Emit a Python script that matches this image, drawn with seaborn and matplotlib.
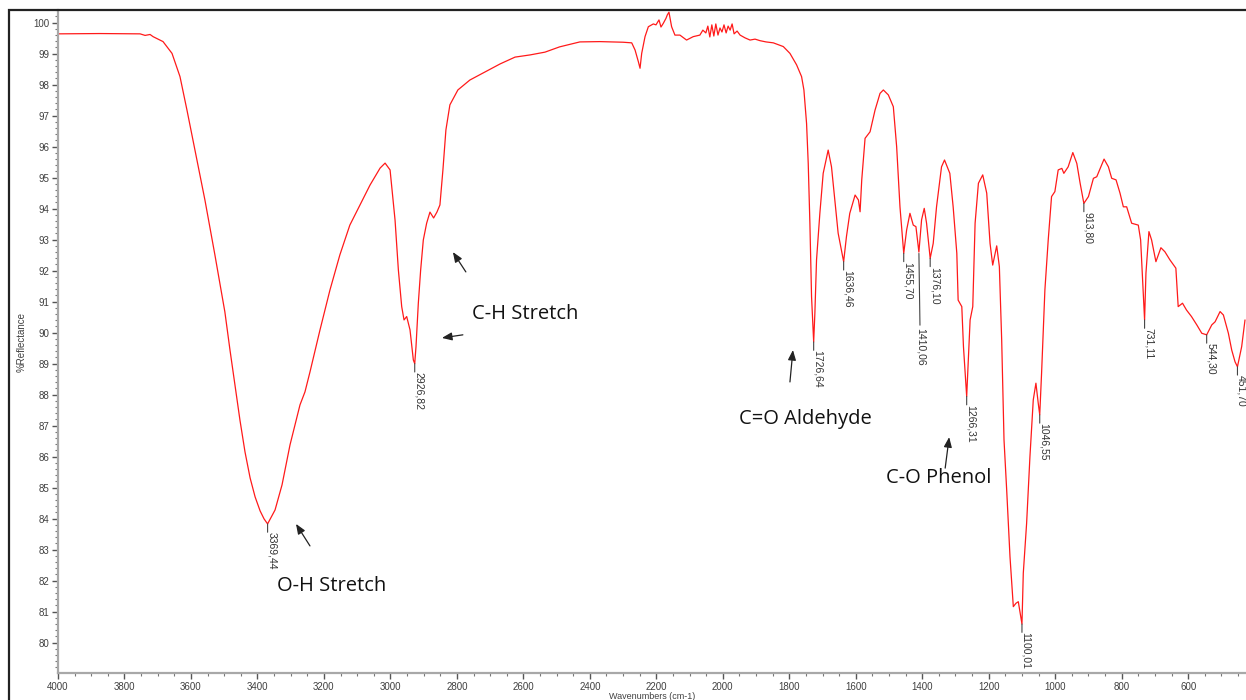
import matplotlib
matplotlib.use("Agg")
import matplotlib.pyplot as plt
from matplotlib.patches import Rectangle
from matplotlib.ticker import MultipleLocator
import seaborn as sns
import pandas as pd

# ---- data: wavenumber (cm-1) and %Reflectance ----
wavenumber = [
    4000, 3874, 3753, 3738, 3723, 3714, 3684, 3657, 3633, 3612,
    3588, 3558, 3528, 3498, 3482.6, 3467.5, 3452.5, 3437.4, 3422, 3407,
    3392, 3380, 3369.44, 3347,
    3326, 3302, 3287, 3272, 3257, 3242, 3212, 3182, 3152, 3122,
    3091.5, 3061.4, 3031, 3016, 3001, 2986, 2976, 2966, 2959, 2951,
    2941, 2931, 2926.82, 2923, 2916, 2909, 2901, 2891, 2881, 2870,
    2860, 2851, 2842, 2833, 2821, 2797, 2761, 2715.4, 2670, 2625,
    2580, 2535, 2491, 2430, 2370, 2300, 2274, 2264, 2254, 2249,
    2244, 2234, 2224, 2209, 2201, 2192, 2186, 2179, 2171, 2167,
    2162, 2154, 2144, 2129, 2109, 2089, 2069, 2060, 2051, 2045,
    2039, 2033, 2027, 2021, 2014.5, 2008.5, 2002.5, 1996.4, 1990, 1984,
    1978, 1972, 1966, 1957, 1948, 1933, 1918, 1903, 1888, 1870,
    1848, 1818, 1798, 1778, 1763, 1756, 1748, 1743, 1738, 1733,
    1726.64, 1723, 1718, 1708, 1698, 1683, 1673, 1663, 1653, 1636.46,
    1628, 1618, 1602, 1592, 1587, 1582, 1572, 1557, 1542, 1527,
    1517, 1502, 1487, 1477, 1467, 1455.70, 1447, 1437, 1427, 1419,
    1410.06, 1402, 1394, 1387, 1376.10, 1367, 1357, 1342, 1333, 1317,
    1307, 1296, 1292, 1281, 1276, 1266.31, 1261, 1256, 1248, 1241,
    1231, 1218, 1206, 1196, 1188, 1176, 1168, 1161, 1154, 1146,
    1136, 1126, 1118, 1111, 1100.01, 1096, 1086, 1076, 1066, 1058,
    1051, 1046.55, 1041, 1031, 1021, 1011, 1001, 991, 980, 974,
    961, 947, 935, 925, 913.80, 900, 885, 875, 853, 840,
    830, 817, 805, 795, 785, 770, 750, 743, 737, 731.11,
    727, 718, 710, 697, 682, 670, 655, 637, 630, 617,
    605, 590, 574, 559, 544.30, 529, 519, 504, 494, 479,
    469, 459, 451.70, 439, 429,
]
reflectance = [
    99.64, 99.65, 99.64, 99.59, 99.62, 99.55, 99.39, 99.01, 98.26, 97.18,
    95.89, 94.28, 92.51, 90.67, 89.44, 88.30, 87.17, 86.15, 85.31, 84.70,
    84.25, 83.99, 83.83, 84.28,
    85.09, 86.38, 87.02, 87.67, 88.09, 88.73, 90.08, 91.37, 92.51, 93.47,
    94.12, 94.76, 95.31, 95.47, 95.25, 93.63, 92.02, 90.84, 90.41, 90.52,
    90.09, 89.12, 89.00, 89.55, 90.95, 92.02, 92.99, 93.53, 93.89, 93.70,
    93.89, 94.12, 95.25, 96.54, 97.35, 97.83, 98.15, 98.41, 98.67, 98.89,
    98.96, 99.05, 99.22, 99.38, 99.39, 99.37, 99.35, 99.12, 98.74, 98.53,
    99.01, 99.55, 99.87, 99.96, 99.93, 100.09, 99.86, 99.98, 100.14, 100.25,
    100.34, 99.87, 99.60, 99.60, 99.44, 99.55, 99.60, 99.76, 99.67, 99.89,
    99.54, 99.93, 99.57, 99.96, 99.60, 99.83, 99.70, 99.93, 99.67, 99.89,
    99.76, 99.96, 99.64, 99.73, 99.60, 99.51, 99.44, 99.47, 99.42, 99.38,
    99.35, 99.23, 99.01, 98.64, 98.26, 97.83, 96.75, 95.46, 93.53, 91.16,
    89.70, 90.63, 92.35, 93.85, 95.14, 95.89, 95.35, 94.28, 93.21, 92.29,
    93.10, 93.85, 94.44, 94.28, 93.90, 94.93, 96.27, 96.48, 97.18, 97.72,
    97.83, 97.67, 97.29, 96.00, 94.06, 92.56, 93.31, 93.85, 93.47, 93.42,
    92.60, 93.64, 94.01, 93.53, 92.40, 92.88, 94.06, 95.35, 95.57, 95.14,
    94.06, 92.56, 91.05, 90.84, 89.55, 87.94, 89.23, 90.41, 90.84, 93.53,
    94.82, 95.09, 94.50, 92.88, 92.18, 92.80, 92.13, 89.76, 86.54, 84.93,
    82.77, 81.16, 81.27, 81.32, 80.60, 82.24, 83.85, 86.00, 87.83, 88.37,
    87.72, 87.35, 88.69, 91.38, 92.99, 94.39, 94.55, 95.25, 95.30, 95.14,
    95.35, 95.81, 95.46, 94.82, 94.17, 94.39, 94.98, 95.03, 95.60, 95.35,
    94.98, 94.93, 94.50, 94.06, 94.06, 93.53, 93.47, 92.99, 91.70, 90.41,
    91.92, 93.26, 92.99, 92.29, 92.74, 92.61, 92.35, 92.08, 90.84, 90.95,
    90.73, 90.52, 90.25, 89.98, 89.93, 90.25, 90.35, 90.68, 90.57, 89.98,
    89.44, 89.06, 88.90, 89.55, 90.41,
]

# peak labels (position, value, label text)
peak_wn = [3369.44, 2926.82, 1726.64, 1636.46, 1455.70, 1410.06, 1376.10,
           1266.31, 1100.01, 1046.55, 913.80, 731.11, 544.30, 451.70]
peak_val = [83.83, 89.00, 89.70, 92.29, 92.56, 92.60, 92.40,
            87.94, 80.60, 87.35, 94.17, 90.41, 89.93, 88.90]
peak_text = ["3369,44", "2926,82", "1726,64", "1636,46", "1455,70", "1410,06",
             "1376,10", "1266,31", "1100,01", "1046,55", "913,80", "731,11",
             "544,30", "451,70"]

# band annotations
band_text = ["O-H Stretch", "C-H Stretch", "C=O Aldehyde", "C-O Phenol"]
band_pos = [(3341, 81.83), (2754, 90.60), (1951, 87.22), (1509, 85.31)]
arrow_tail = [(3242, 83.12), (2773, 91.96), (2782, 89.93), (1798, 88.41), (1331, 85.63)]
arrow_head = [(3284, 83.83), (2812, 92.60), (2845, 89.83), (1789, 89.44), (1319, 86.63)]

x_ticks = list(range(600, 4001, 200))
y_ticks = list(range(80, 101))

# ---- figure ----
sns.set_theme(style="white")
plt.rcParams["font.family"] = ["Liberation Sans", "DejaVu Sans"]

W, H = 1246, 700
fig = plt.figure(figsize=(W / 100, H / 100), dpi=100)
ax = fig.add_axes([58 / W, (H - 673.3) / H, (1246 - 58) / W, (673.3 - 10.3) / H])

df = pd.DataFrame({"Wavenumber": wavenumber, "Reflectance": reflectance})
sns.lineplot(data=df, x="Wavenumber", y="Reflectance", ax=ax, color="#ff1a1a",
             linewidth=0.9, estimator=None, sort=True)

ax.set_xlim(4000, 426)
ax.set_ylim(79.01, 100.4)
ax.set_xticks(x_ticks)
ax.set_yticks(y_ticks)
ax.xaxis.set_minor_locator(MultipleLocator(50))
ax.yaxis.set_minor_locator(MultipleLocator(0.2))
ax.tick_params(axis="both", which="major", direction="out", length=4, width=1,
               color="#555555", labelsize=7, labelcolor="#404040", pad=2)
ax.tick_params(axis="both", which="minor", direction="out", length=2, width=0.8,
               color="#777777")
ax.tick_params(axis="x", which="both", bottom=True)
ax.tick_params(axis="y", which="both", left=True)

for s in ["top", "right"]:
    ax.spines[s].set_visible(False)
for s in ["left", "bottom"]:
    ax.spines[s].set_color("#a8a8a8")
    ax.spines[s].set_linewidth(1.6)

ax.set_xlabel("Wavenumbers (cm-1)", fontsize=6.5, color="#404040", labelpad=0)
ax.set_ylabel("%Reflectance", fontsize=7, color="#404040", labelpad=5)
ax.grid(False)

# peak labels with short leader lines
for w, r, t in zip(peak_wn, peak_val, peak_text):
    if t == "1410,06":
        ax.annotate(t, xy=(w, r), xytext=(1, -55), textcoords="offset points",
                    rotation=-90, ha="center", va="top", fontsize=7.5, color="#333333",
                    arrowprops=dict(arrowstyle="-", color="#444444", lw=0.8,
                                    shrinkA=0, shrinkB=1))
    else:
        ax.annotate(t, xy=(w, r), xytext=(3, -6), textcoords="offset points",
                    rotation=-90, ha="center", va="top", fontsize=7.5, color="#333333")
        ax.annotate("", xy=(w, r), xytext=(0, -6), textcoords="offset points",
                    arrowprops=dict(arrowstyle="-", color="#444444", lw=0.8,
                                    shrinkA=0, shrinkB=0))

# band annotations
for t, (bx, by) in zip(band_text, band_pos):
    ax.text(bx, by, t, fontsize=14.5, family=["Open Sans", "DejaVu Sans"], color="#111111",
            ha="left", va="center")
for (tx, ty), (hx, hy) in zip(arrow_tail, arrow_head):
    ax.annotate("", xy=(hx, hy), xytext=(tx, ty),
                arrowprops=dict(arrowstyle="-|>,head_length=0.5,head_width=0.2",
                                color="#222222", lw=0.9, shrinkA=0, shrinkB=0))

# outer frame
fig.patches.append(Rectangle((9 / W, -0.01), 1.02, (H - 10.3) / H + 0.01,
                             transform=fig.transFigure, fill=False,
                             edgecolor="#222222", linewidth=1.6, zorder=10))

fig.savefig("out.png", dpi=100)
